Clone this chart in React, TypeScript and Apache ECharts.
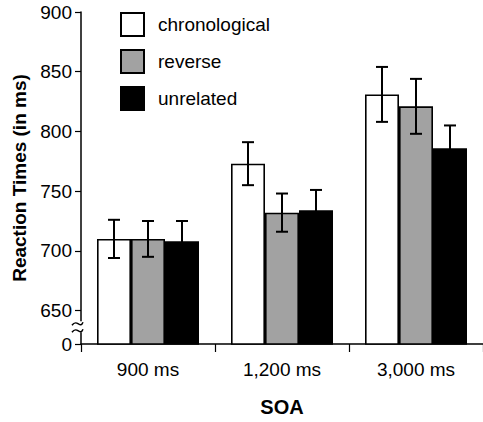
import React, { useEffect, useRef } from "react";
import * as echarts from "echarts";

const categories = ["900 ms", "1,200 ms", "3,000 ms"];
const seriesNames = ["chronological", "reverse", "unrelated"];
const chronological = [710, 773, 831];
const reverse = [710, 732, 821];
const unrelated = [708, 734, 786];
const chronologicalErr = [16, 18, 23];
const reverseErr = [15, 16, 23];
const unrelatedErr = [17, 17, 19];
const yTicks = [622, 650, 700, 750, 800, 850, 900];
const breakValue = 636;

const FONT = "'Liberation Sans', Arial, Helvetica, sans-serif";
const fills = ["#ffffff", "#a2a2a2", "#000000"];

export default function App() {
  const ref = useRef<HTMLDivElement>(null);
  useEffect(() => {
    if (!ref.current) return;
    const chart = echarts.init(ref.current, null, { renderer: "svg" });
    const values = [chronological, reverse, unrelated];
    const errs = [chronologicalErr, reverseErr, unrelatedErr];
    const BAR_W = 34;

    const errData: number[][] = [];
    values.forEach((vals, s) => {
      vals.forEach((v, i) => {
        errData.push([i, v - errs[s][i], v + errs[s][i], s]);
      });
    });

    const barSeries = seriesNames.map((name, s) => ({
      name,
      type: "bar",
      data: values[s],
      barWidth: BAR_W,
      barGap: "0%",
      itemStyle: {
        color: fills[s],
        borderColor: "#000",
        borderWidth: 1.6,
      },
      z: 2,
    }));

    chart.setOption({
      animation: false,
      backgroundColor: "#ffffff",
      grid: { left: 81, right: 0, top: 12, bottom: 75, containLabel: false },
      legend: {
        data: seriesNames,
        orient: "vertical",
        left: 120,
        top: 12,
        itemWidth: 23,
        itemHeight: 23,
        itemGap: 12,
        icon: "rect",
        padding: 0,
        textStyle: {
          fontFamily: FONT,
          fontSize: 19,
          color: "#000",
          padding: [0, 0, 0, 9],
        },
      },
      xAxis: {
        type: "category",
        data: categories,
        name: "SOA",
        nameLocation: "middle",
        nameGap: 53,
        nameTextStyle: {
          fontFamily: FONT,
          fontSize: 20,
          fontWeight: "bold",
          color: "#000",
        },
        axisLine: { lineStyle: { color: "#000", width: 1.5 } },
        axisTick: { show: true, length: 8, lineStyle: { color: "#000", width: 1.2 } },
        axisLabel: {
          fontFamily: FONT,
          fontSize: 19,
          color: "#000",
          margin: 16,
        },
        splitLine: { show: false },
      },
      yAxis: {
        type: "value",
        min: 622,
        max: 900,
        name: "Reaction Times (in ms)",
        nameLocation: "middle",
        nameGap: 52,
        nameTextStyle: {
          fontFamily: FONT,
          fontSize: 19,
          fontWeight: "bold",
          color: "#000",
        },
        axisLine: { show: true, lineStyle: { color: "#000", width: 1.5 } },
        axisTick: {
          show: true,
          inside: false,
          length: 6,
          customValues: yTicks,
          lineStyle: { color: "#000", width: 1.2 },
        },
        axisLabel: {
          fontFamily: FONT,
          fontSize: 19,
          color: "#000",
          margin: 9,
          customValues: yTicks,
          formatter: (v: number) => (v === yTicks[0] ? "0" : String(v)),
        },
        splitLine: { show: false },
      },
      series: [
        ...barSeries,
        {
          type: "custom",
          name: "errors",
          data: errData,
          z: 5,
          renderItem: (params: any, api: any) => {
            const cat = api.value(0);
            const lo = api.value(1);
            const hi = api.value(2);
            const s = api.value(3);
            const pLo = api.coord([cat, lo]);
            const pHi = api.coord([cat, hi]);
            const x = pLo[0] + (s - 1) * BAR_W;
            const cap = 6;
            const style = { stroke: "#000", lineWidth: 2 };
            return {
              type: "group",
              children: [
                { type: "line", shape: { x1: x, y1: pLo[1], x2: x, y2: pHi[1] }, style },
                { type: "line", shape: { x1: x - cap, y1: pHi[1], x2: x + cap, y2: pHi[1] }, style },
                { type: "line", shape: { x1: x - cap, y1: pLo[1], x2: x + cap, y2: pLo[1] }, style },
              ],
            };
          },
        },
      ],
    });

    // axis break marks
    const p = chart.convertToPixel({ gridIndex: 0 } as any, [0, breakValue]) as number[];
    const ax = 81;
    const by = p[1];
    const tilde = (cy: number) => ({
      type: "bezierCurve",
      shape: {
        x1: ax - 9,
        y1: cy + 1.5,
        cpx1: ax - 4,
        cpy1: cy - 6,
        cpx2: ax - 1,
        cpy2: cy + 6,
        x2: ax + 2,
        y2: cy - 1.5,
      },
      style: { stroke: "#000", lineWidth: 1.5, fill: null },
      z: 20,
    });
    chart.setOption({
      graphic: [
        {
          type: "rect",
          shape: { x: ax - 3, y: by - 6, width: 6, height: 11 },
          style: { fill: "#fff" },
          z: 19,
        },
        tilde(by - 3.5),
        tilde(by + 3.5),
      ],
    });

    return () => chart.dispose();
  }, []);
  return (
    <div
      ref={ref}
      style={{ position: "fixed", left: 0, top: 0, width: 483, height: 422 }}
    />
  );
}
